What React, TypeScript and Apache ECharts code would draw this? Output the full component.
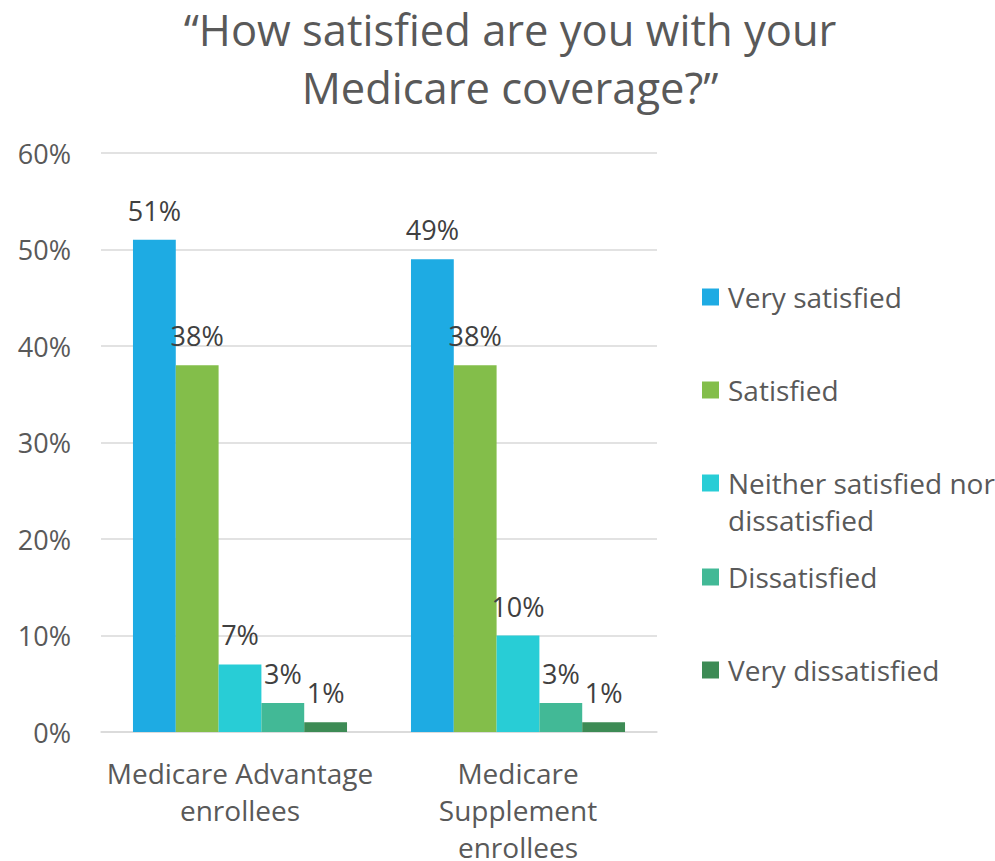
import React, { useEffect, useRef } from "react";
import * as echarts from "echarts";

const categories = ["Medicare Advantage\nenrollees", "Medicare\nSupplement\nenrollees"];
const seriesNames = [
  "Very satisfied",
  "Satisfied",
  "Neither satisfied nor dissatisfied",
  "Dissatisfied",
  "Very dissatisfied",
];
const veryS = [51, 49];
const satisfied = [38, 38];
const neither = [7, 10];
const dissatisfied = [3, 3];
const veryD = [1, 1];
const seriesValues = [veryS, satisfied, neither, dissatisfied, veryD];
const colors = ["#1EABE3", "#83BE4A", "#28CDD6", "#42B996", "#3D8B55"];
const legendCenters = [297, 390, 483, 577, 670];

const FONT = "'Open Sans', sans-serif";

export default function App() {
  const ref = useRef<HTMLDivElement>(null);
  useEffect(() => {
    document.body.style.margin = "0";
    const chart = echarts.init(ref.current!, null, { renderer: "svg" });
    chart.setOption({
      animation: false,
      textStyle: { fontFamily: FONT },
      title: {
        text: "\u201CHow satisfied are you with your\nMedicare coverage?\u201D",
        left: 510,
        top: 0,
        padding: 0,
        textAlign: "center",
        textStyle: {
          fontFamily: FONT,
          fontSize: 43.5,
          fontWeight: "normal",
          color: "#595959",
          lineHeight: 58,
        },
      },
      legend: seriesNames.map((n, i) => ({
        data: [n],
        orient: "vertical",
        left: 702,
        top: legendCenters[i] - 17,
        padding: 0,
        itemWidth: 17,
        itemHeight: 17,
        icon: "rect",
        selectedMode: false,
        formatter: (name: string) =>
          name === "Neither satisfied nor dissatisfied" ? "Neither satisfied nor" : name,
        textStyle: {
          fontFamily: FONT,
          fontSize: 28,
          color: "#595959",
          lineHeight: 34,
          padding: [0, 0, 0, 4],
        },
      })),
      graphic: [
        {
          type: "text",
          left: 728,
          top: 520 - 17,
          style: {
            text: "dissatisfied",
            fontFamily: FONT,
            fontSize: 28,
            fill: "#595959",
            lineHeight: 34,
          },
        },
      ],
      grid: { left: 101, right: 338, top: 153, bottom: 129, outerBoundsMode: "none" },
      xAxis: {
        type: "category",
        data: categories,
        axisTick: { show: false },
        axisLine: { lineStyle: { color: "#D9D9D9", width: 1.5 } },
        axisLabel: {
          fontFamily: FONT,
          fontSize: 28,
          color: "#595959",
          lineHeight: 37,
          margin: 22,
          interval: 0,
        },
      },
      yAxis: {
        type: "value",
        min: 0,
        max: 60,
        interval: 10,
        axisLine: { show: false },
        axisTick: { show: false },
        splitLine: { lineStyle: { color: "#D9D9D9", width: 1.5 } },
        axisLabel: {
          formatter: "{value}%",
          fontFamily: FONT,
          fontSize: 27,
          color: "#595959",
          margin: 30,
        },
      },
      series: seriesNames.map((n, i) => ({
        name: n,
        type: "bar",
        data: seriesValues[i],
        barGap: "0%",
        barCategoryGap: "23%",
        itemStyle: { color: colors[i] },
        label: {
          show: true,
          position: "top",
          distance: 16,
          formatter: "{c}%",
          fontFamily: FONT,
          fontSize: 27,
          color: "#404040",
        },
      })),
    });
    return () => chart.dispose();
  }, []);
  return <div ref={ref} style={{ width: 995, height: 861 }} />;
}
